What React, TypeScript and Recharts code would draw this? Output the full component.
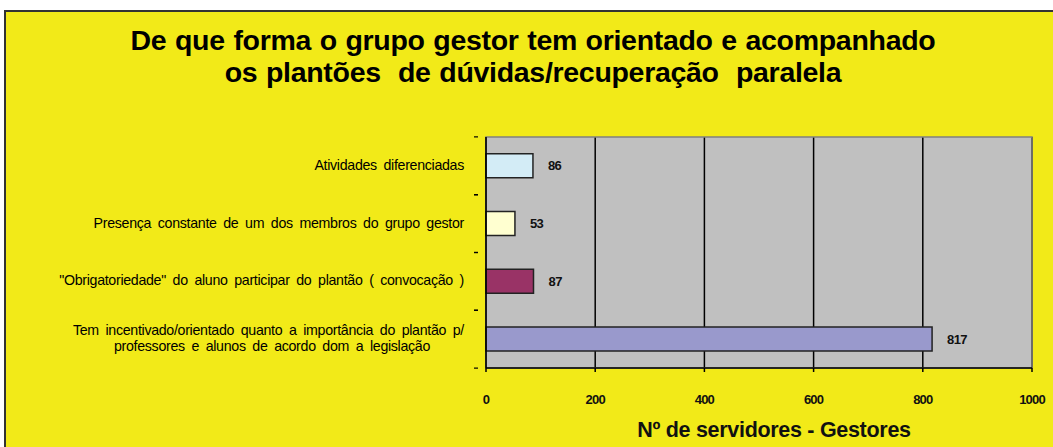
import React from "react";
import { BarChart, Bar, XAxis, YAxis, CartesianGrid, Cell, LabelList, ReferenceArea } from "recharts";

const categories = [
  "Atividades diferenciadas",
  "Presença constante de um dos membros do grupo gestor",
  "\"Obrigatoriedade\" do aluno participar do plantão  ( convocação )",
  "Tem incentivado/orientado quanto a importância do plantão p/\nprofessores e alunos de acordo dom a legislação",
];
const values = [86, 53, 87, 817];
const barColors = ["#D3ECF6", "#FFFFD0", "#993366", "#9999CC"];
const xTicks = [0, 200, 400, 600, 800, 1000];

const data = categories.map((c, i) => ({ name: c, value: values[i] }));

const font = "'Liberation Sans', Arial, sans-serif";

function CategoryTick(props: any) {
  const { x, y, payload } = props;
  const lines: string[] = String(payload.value).split("\n");
  const lh = 16;
  const start = y - ((lines.length - 1) * lh) / 2;
  return (
    <g>
      <line x1={x - 4} x2={x} y1={y - 29} y2={y - 29} stroke="#000" strokeWidth={1.2} />
      <line x1={x - 4} x2={x} y1={y + 29} y2={y + 29} stroke="#000" strokeWidth={1.2} />
      {lines.map((l, i) => (
        <text
          key={i}
          x={i === 0 ? x - 14 : x - 206}
          y={start + i * lh}
          dy={4}
          textAnchor={i === 0 ? "end" : "middle"}
          fontFamily={font}
          fontSize={14.2}
          letterSpacing={-0.3}
          wordSpacing={3}
          fill="#000"
        >
          {l}
        </text>
      ))}
    </g>
  );
}

function ValueTick(props: any) {
  const { x, y, payload } = props;
  return (
    <text x={x} y={y + 30} textAnchor="middle" fontFamily={font} fontSize={13} fontWeight="bold" letterSpacing={-0.8} fill="#111">
      {payload.value}
    </text>
  );
}

export default function App() {
  return (
    <div style={{ position: "absolute", left: 0, top: 0, width: 1053, height: 447, background: "#fff", overflow: "hidden" }}>
      <div
        style={{
          position: "absolute",
          left: 4,
          top: 10,
          width: 1060,
          height: 450,
          background: "#F2EA18",
          borderLeft: "2px solid #333",
          borderTop: "2px solid #333",
        }}
      />
      <div
        style={{
          position: "absolute",
          left: 0,
          top: 24,
          width: 1066,
          textAlign: "center",
          fontFamily: font,
          fontWeight: "bold",
          fontSize: 28.5,
          lineHeight: "32px",
          letterSpacing: -0.3,
          wordSpacing: 1,
          color: "#000",
        }}
      >
        De que forma o grupo gestor tem orientado e acompanhado
        <br />
        os plantões&nbsp; de dúvidas/recuperação&nbsp; paralela
      </div>
      <div style={{ position: "absolute", left: 0, top: 0 }}>
        <BarChart
          width={1053}
          height={447}
          layout="vertical"
          data={data}
          margin={{ top: 137, right: 21, bottom: 0, left: 0 }}
          barCategoryGap="29%"
        >
          <CartesianGrid horizontal={false} stroke="#000" strokeWidth={1.5} fill="#C0C0C0" />
          <ReferenceArea x1={0} x2={1000} fill="none" stroke="#808080" strokeWidth={1.5} />
          <XAxis
            type="number"
            domain={[0, 1000]}
            ticks={xTicks}
            stroke="#000"
            strokeWidth={1.5}
            tickSize={4}
            height={79}
            tick={<ValueTick />}
            label={{
              value: "Nº de servidores - Gestores",
              position: "insideBottom",
              offset: 10,
              dx: 15,
              style: { fontFamily: font, fontWeight: "bold", fontSize: 21.5, letterSpacing: -0.3, fill: "#111" },
            }}
          />
          <YAxis
            type="category"
            dataKey="name"
            width={486}
            stroke="#000"
            strokeWidth={1.5}
            tickLine={false}
            tick={<CategoryTick />}
            interval={0}
          />
          <Bar dataKey="value" stroke="#222" strokeWidth={1.5} isAnimationActive={false}>
            {data.map((d, i) => (
              <Cell key={i} fill={barColors[i]} />
            ))}
            <LabelList
              dataKey="value"
              position="right"
              offset={15}
              style={{ fontFamily: font, fontSize: 13, fontWeight: "bold", letterSpacing: -0.6, fill: "#111" }}
            />
          </Bar>
        </BarChart>
      </div>
    </div>
  );
}
